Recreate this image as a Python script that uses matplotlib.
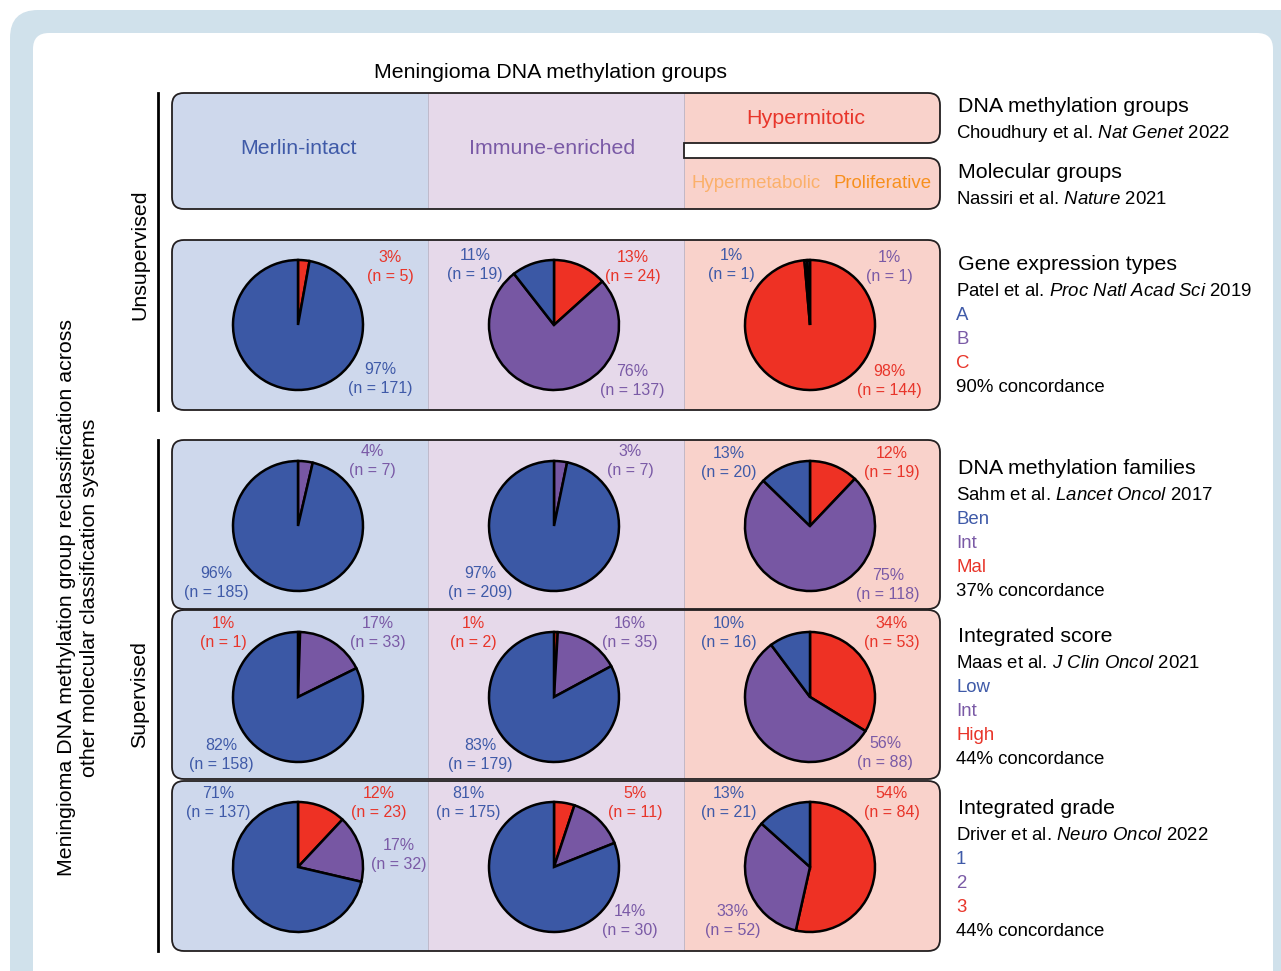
import numpy as np
import matplotlib
matplotlib.use("Agg")
import matplotlib.pyplot as plt
from matplotlib.patches import FancyBboxPatch, PathPatch, Rectangle
from matplotlib.path import Path

plt.rcParams['font.family'] = ['Liberation Sans', 'DejaVu Sans']
plt.rcParams['mathtext.fontset'] = 'custom'
plt.rcParams['mathtext.rm'] = 'Liberation Sans'
plt.rcParams['mathtext.it'] = 'Liberation Sans:italic'

# ---- data -------------------------------------------------------------
columns = ['Merlin-intact', 'Immune-enriched', 'Hypermitotic']
molecular_groups = ['Hypermetabolic', 'Proliferative']

# counts per column, category order: blue, purple, red
gene_n = [[171, 0, 5], [19, 137, 24], [1, 1, 144]]
gene_pct = [['97%', None, '3%'], ['11%', '76%', '13%'], ['1%', '1%', '98%']]
family_n = [[185, 7, 0], [209, 7, 0], [20, 118, 19]]
family_pct = [['96%', '4%', None], ['97%', '3%', None], ['13%', '75%', '12%']]
score_n = [[158, 33, 1], [179, 35, 2], [16, 88, 53]]
score_pct = [['82%', '17%', '1%'], ['83%', '16%', '1%'], ['10%', '56%', '34%']]
grade_n = [[137, 32, 23], [175, 30, 11], [21, 52, 84]]
grade_pct = [['71%', '17%', '12%'], ['81%', '14%', '5%'], ['13%', '33%', '54%']]

systems = ['Gene expression types', 'DNA methylation families',
           'Integrated score', 'Integrated grade']
citations = [r'Patel et al. $\mathit{Proc\ Natl\ Acad\ Sci}$ 2019',
             r'Sahm et al. $\mathit{Lancet\ Oncol}$ 2017',
             r'Maas et al. $\mathit{J\ Clin\ Oncol}$ 2021',
             r'Driver et al. $\mathit{Neuro\ Oncol}$ 2022']
system_classes = [['A', 'B', 'C'], ['Ben', 'Int', 'Mal'],
                  ['Low', 'Int', 'High'], ['1', '2', '3']]
concordance = ['90%', '37%', '44%', '44%']

# ---- style ------------------------------------------------------------
BLUE, PURPLE, RED = '#3b58a5', '#7757a3', '#ee3124'
TXT = ['#3f5aa8', '#7a5aa6', '#e8352a']
FILLS = ['#ced8ec', '#e6d9ea', '#f9d2cb']
BIG, MID = 15.4, 13.4
W, H = 1281, 971

fig = plt.figure(figsize=(W / 100, H / 100), dpi=100)
ax = fig.add_axes([0, 0, 1, 1])
ax.set_xlim(0, W)
ax.set_ylim(H, 0)
ax.axis('off')

# frame
ax.add_patch(FancyBboxPatch((10, 10), 1400, 1100, boxstyle='round,pad=0,rounding_size=28',
                            fc='#d0e1eb', ec='none'))
ax.add_patch(FancyBboxPatch((33, 33), 1240, 1100, boxstyle='round,pad=0,rounding_size=16',
                            fc='white', ec='none'))


def rounded(corners, radii):
    verts, codes = [], []
    n = len(corners)
    for i in range(n):
        p = np.array(corners[i], float)
        a = np.array(corners[i - 1], float)
        b = np.array(corners[(i + 1) % n], float)
        r = radii[i]
        if r == 0:
            verts.append(p)
            codes.append(Path.LINETO)
        else:
            p1 = p + r * (a - p) / np.linalg.norm(a - p)
            p2 = p + r * (b - p) / np.linalg.norm(b - p)
            verts += [p1, p, p2]
            codes += [Path.LINETO, Path.CURVE3, Path.CURVE3]
    codes[0] = Path.MOVETO
    verts.append(verts[0])
    codes.append(Path.CLOSEPOLY)
    return Path(verts, codes)


col_x = [172, 428, 684, 940]


def panel(path, y0, y1):
    outline = PathPatch(path, fc='none', ec='#231f20', lw=1.3, zorder=3)
    ax.add_patch(outline)
    for i in range(3):
        r = Rectangle((col_x[i], y0), col_x[i + 1] - col_x[i], y1 - y0,
                      fc=FILLS[i], ec='none', zorder=1)
        ax.add_patch(r)
        r.set_clip_path(outline)
    for x in col_x[1:3]:
        ln, = ax.plot([x, x], [y0, y1], color='#b9b4c6', lw=0.6, zorder=2)
        ln.set_clip_path(outline)


# top box with notch
top = rounded([(172, 93), (940, 93), (940, 143), (684, 143), (684, 158),
               (940, 158), (940, 209), (172, 209)],
              [12, 12, 12, 0, 0, 12, 12, 12])
panel(top, 93, 209)

boxes = [(240, 410), (440, 609), (610, 779), (781, 951)]
for y0, y1 in boxes:
    p = rounded([(172, y0), (940, y0), (940, y1), (172, y1)], [12] * 4)
    panel(p, y0, y1)

# titles
ax.text(551, 72, 'Meningioma DNA methylation groups', ha='center', va='center', fontsize=BIG)
ax.text(298, 149, columns[0], ha='center', va='center', fontsize=BIG, color=TXT[0])
ax.text(552, 149, columns[1], ha='center', va='center', fontsize=BIG, color=TXT[1])
ax.text(806, 118, columns[2], ha='center', va='center', fontsize=BIG, color=TXT[2])
ax.text(756, 184, molecular_groups[0], ha='center', va='center', fontsize=MID, color='#fbb06a')
ax.text(883, 184, molecular_groups[1], ha='center', va='center', fontsize=MID, color='#f7901e')

# left labels
ax.plot([158, 158], [93, 410], color='black', lw=2)
ax.plot([158, 158], [440, 951], color='black', lw=2)
ax.text(140, 255, 'Unsupervised', rotation=90, ha='center', va='center', fontsize=BIG)
ax.text(140, 695, 'Supervised', rotation=90, ha='center', va='center', fontsize=BIG)
ax.text(78, 598, 'Meningioma DNA methylation group reclassification across\n'
        'other molecular classification systems', rotation=90, ha='center',
        va='center', fontsize=BIG, linespacing=1.22)

# right legend
ax.text(958, 106, 'DNA methylation groups', va='center', fontsize=BIG)
ax.text(956, 133, r'Choudhury et al. $\mathit{Nat\ Genet}$ 2022', va='center', fontsize=MID)
ax.text(958, 172, 'Molecular groups', va='center', fontsize=BIG)
ax.text(956, 200, r'Nassiri et al. $\mathit{Nature}$ 2021', va='center', fontsize=MID)
legend_top = [265, 468, 637, 808]
for k in range(4):
    y = legend_top[k]
    ax.text(958, y, systems[k], va='center', fontsize=BIG)
    ax.text(956, y + 27, citations[k], va='center', fontsize=MID)
    for j, c in enumerate(system_classes[k]):
        ax.text(956, y + 51 + 24 * j, c, va='center', fontsize=MID, color=TXT[j])
    ax.text(956, y + 123, concordance[k] + ' concordance', va='center', fontsize=MID)

# pies
pie_cx = [298, 554, 810]
pie_cy = [325, 526, 697, 867]
R = 65
counts = [gene_n, family_n, score_n, grade_n]
pcts = [gene_pct, family_pct, score_pct, grade_pct]

# label positions (x, y of percentage line) per row / column / category
label_pos = [
    [[(380, 370), None, (390, 257)],
     [(475, 256), (632, 371), (633, 257)],
     [(731, 256), (889, 258), (889, 371)]],
    [[(216, 573), (372, 452), None],
     [(480, 573), (630, 452), None],
     [(729, 453), (888, 575), (892, 453)]],
    [[(221, 745), (378, 623), (223, 623)],
     [(480, 745), (630, 623), (473, 623)],
     [(729, 623), (885, 744), (892, 623)]],
    [[(218, 794), (399, 845), (379, 794)],
     [(468, 794), (630, 911), (635, 794)],
     [(729, 794), (733, 911), (892, 794)]],
]

for r in range(4):
    for c in range(3):
        n = counts[r][c]
        cx, cy = pie_cx[c], pie_cy[r]
        m = 1.03
        pax = fig.add_axes([(cx - R * m) / W, 1 - (cy + R * m) / H,
                            2 * R * m / W, 2 * R * m / H])
        vals = [n[2], n[1], n[0]]
        cols = [RED, PURPLE, BLUE]
        keep = [i for i in range(3) if vals[i] > 0]
        pax.pie([vals[i] for i in keep], colors=[cols[i] for i in keep],
                startangle=90, counterclock=False, radius=1,
                wedgeprops=dict(edgecolor='black', linewidth=1.8))
        pax.set_xlim(-m, m)
        pax.set_ylim(-m, m)
        pax.set_aspect('equal')
        pax.axis('off')
        for k in range(3):
            if pcts[r][c][k] is None:
                continue
            x, y = label_pos[r][c][k]
            ax.text(x, y, pcts[r][c][k], ha='center', va='center', fontsize=11.5, color=TXT[k])
            ax.text(x, y + 19, '(n = %d)' % n[k], ha='center', va='center',
                    fontsize=11.5, color=TXT[k])

fig.savefig('out.png', dpi=100)
